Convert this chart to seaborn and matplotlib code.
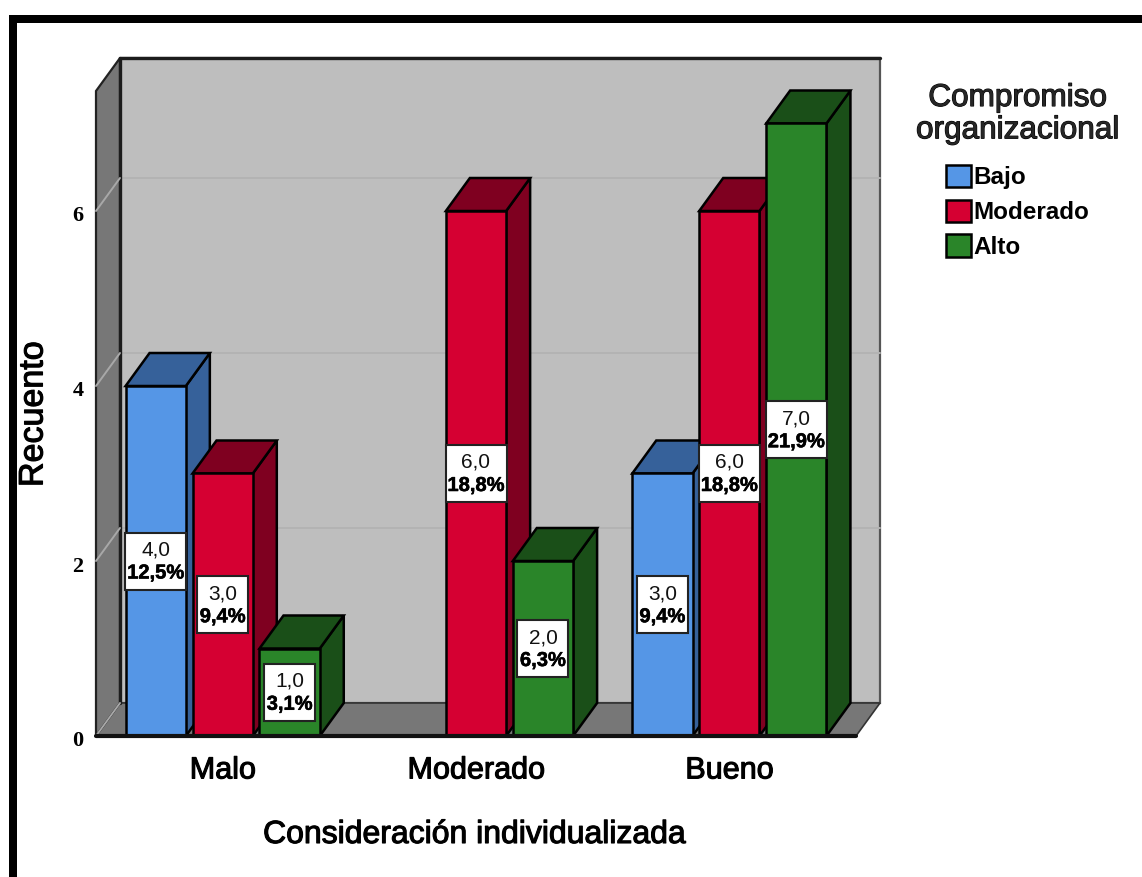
import numpy as np
import pandas as pd
import matplotlib
matplotlib.use("Agg")
import matplotlib.pyplot as plt
import matplotlib.patheffects as pe
from matplotlib.patches import Polygon, Rectangle
from matplotlib.transforms import ScaledTranslation
import seaborn as sns

# Survey counts by individual consideration and organisational commitment
categories = ["Malo", "Moderado", "Bueno"]
levels = ["Bajo", "Moderado", "Alto"]
bajo = [4, np.nan, 3]
moderado = [3, 6, 6]
alto = [1, 2, 7]
bajo_pct = [12.5, np.nan, 9.4]
moderado_pct = [9.4, 18.8, 18.8]
alto_pct = [3.1, 6.3, 21.9]
y_ticks = [0, 2, 4, 6]

front_colors = ["#5596E6", "#D50032", "#2A8529"]
shade_colors = ["#36619A", "#7F0020", "#1A4F18"]
WALL = "#BEBEBE"
SIDE = "#777777"
INK = "#000000"
SANS = "Liberation Sans"

W, H = 1142, 877
sns.set_theme(style="white", rc={"font.family": SANS})
fig = plt.figure(figsize=(W / 100, H / 100), dpi=100, facecolor="white")
ax = fig.add_axes([96 / W, (H - 736) / H, 760 / W, 645 / H])

df = pd.DataFrame({
    "categoria": np.repeat(categories, len(levels)),
    "nivel": levels * len(categories),
    "recuento": np.column_stack([bajo, moderado, alto]).ravel(),
})

sns.barplot(data=df, x="categoria", y="recuento", hue="nivel",
            order=categories, hue_order=levels, palette=front_colors,
            saturation=1, width=0.793, gap=0.1, edgecolor=INK, linewidth=1.8,
            ax=ax, zorder=5)

ax.set_xlim(-0.5, 2.5)
ax.set_ylim(0, 645 / 87.5)
for side in ax.spines.values():
    side.set_visible(False)

# Depth of the box, in data units
dx = 24 / (760 / 3)
dy = 33 / 87.5
x0, x1 = ax.get_xlim()
top = ax.get_ylim()[1]

# Back wall, floor and left wall of the box
ax.add_patch(Rectangle((x0 + dx, dy), x1 - x0, top, fc=WALL, ec="#555555", lw=1.6,
                       clip_on=False, zorder=0.5))
ax.add_patch(Polygon([(x0, 0), (x1, 0), (x1 + dx, dy), (x0 + dx, dy)], fc=SIDE,
                     ec="#333333", lw=1.2, clip_on=False, zorder=1))
ax.add_patch(Polygon([(x0, 0), (x0 + dx, dy), (x0 + dx, top + dy), (x0, top)], fc=SIDE,
                     ec="#222222", lw=1.6, clip_on=False, zorder=1))
ax.plot([x0 + dx, x0 + dx], [dy, top + dy], color="#1c1c1c", lw=2.4, clip_on=False, zorder=1.2)
ax.plot([x0 + dx, x1 + dx], [top + dy, top + dy], color="#1c1c1c", lw=2.4, clip_on=False, zorder=1.2)
ax.plot([x0, x1], [0, 0], color="#111111", lw=3, clip_on=False, zorder=30)

# Grid lines run along the back wall and fold down the left wall
for v in y_ticks:
    if v:
        ax.plot([x0 + dx, x1 + dx], [v + dy, v + dy], color="#B3B3B3", lw=1.4,
                clip_on=False, zorder=0.8)
    ax.plot([x0, x0 + dx], [v, v + dy], color="#A8A8A8", lw=1.4, clip_on=False, zorder=1.3)

# Extrude each bar: right side and top face, painted from left to right
bars = []
counts = [bajo, moderado, alto]
pcts = [bajo_pct, moderado_pct, alto_pct]
for h, container in enumerate(ax.containers):
    shown = [(c, p) for c, p in zip(counts[h], pcts[h]) if not np.isnan(c)]
    real = [b for b in container if b.get_height() > 0]
    for bar, (c, p) in zip(real, shown):
        bars.append((bar, shade_colors[h], c, p))
bars.sort(key=lambda item: item[0].get_x())

px_x = 760 / 3
px_y = 87.5
for i, (bar, shade, c, p) in enumerate(bars):
    z = 5 + i
    bx, bw, bh = bar.get_x(), bar.get_width(), bar.get_height()
    right = bx + bw
    bar.set_zorder(z + 0.2)
    bar.set_clip_on(False)
    ax.add_patch(Polygon([(right, 0), (right + dx, dy), (right + dx, bh + dy), (right, bh)],
                         fc=shade, ec=INK, lw=1.8, joinstyle="miter", clip_on=False, zorder=z))
    ax.add_patch(Polygon([(bx, bh), (right, bh), (right + dx, bh + dy), (bx + dx, bh + dy)],
                         fc=shade, ec=INK, lw=1.8, joinstyle="miter", clip_on=False, zorder=z))

# Count and percentage tags at mid height of each bar
for bar, shade, c, p in bars:
    cx = bar.get_x() + bar.get_width() / 2
    cy = bar.get_height() / 2
    pct_text = f"{p:.1f}%".replace(".", ",")
    box_w = (61 if p >= 10 else 51) / px_x
    box_h = 57 / px_y
    ax.add_patch(Rectangle((cx - box_w / 2, cy - box_h / 2), box_w, box_h, fc="white",
                           ec="#222222", lw=1.5, clip_on=False, zorder=40))
    ax.text(cx, cy + 11 / px_y, f"{c:.1f}".replace(".", ","), ha="center", va="center",
            fontsize=15, color="#111111", family=SANS, zorder=41)
    ax.text(cx, cy - 12 / px_y, pct_text, ha="center", va="center", fontsize=14.5,
            fontweight="bold", color=INK, family=SANS, zorder=41,
            path_effects=[pe.withStroke(linewidth=0.4, foreground=INK)])

# Axes text
thick = [pe.withStroke(linewidth=0.8, foreground=INK)]
ax.set_yticks(y_ticks)
ax.set_yticklabels([str(v) for v in y_ticks], fontsize=16, fontweight="bold",
                   family="Liberation Serif", color=INK)
ax.set_xticks(range(len(categories)))
ax.set_xticklabels(categories, fontsize=22, color=INK)
ax.tick_params(axis="y", length=0, pad=9)
ax.tick_params(axis="x", length=0, pad=14)
nudge = ScaledTranslation(0, -3 / 100, fig.dpi_scale_trans)
for t in ax.get_yticklabels():
    t.set_transform(t.get_transform() + nudge)
for t in ax.get_xticklabels():
    t.set_path_effects(thick)
ax.set_xlabel("")
ax.set_ylabel("")
fig.text(475 / W, 1 - 835 / H, "Consideración individualizada", ha="center", va="center",
         fontsize=23, color=INK, path_effects=thick)
fig.text(34 / W, 1 - 414 / H, "Recuento", ha="center", va="center", rotation=90,
         fontsize=24.5, color=INK, path_effects=thick)

# Legend, using the handles the bar plot created
handles, labels = ax.get_legend_handles_labels()
leg = ax.legend(handles, labels, title="Compromiso\norganizacional", loc="upper left",
                bbox_to_anchor=(916 / W, 1 - 83 / H), bbox_transform=fig.transFigure,
                frameon=False, fontsize=17.5, handlelength=1.0, handleheight=1.05,
                handletextpad=0.12, labelspacing=0.42, borderpad=0, borderaxespad=0,
                alignment="center")
title = leg.get_title()
title.set_fontsize(22.7)
title.set_path_effects(thick)
title.set_multialignment("center")
title.set_linespacing(1.1)
leg._legend_box.sep = 14
leg.set_zorder(50)
for t in leg.get_texts():
    t.set_fontweight("bold")
    t.set_color(INK)

# Heavy frame along the top and left of the figure
fig.add_artist(Rectangle((9 / W, 0), 8 / W, 1 - 15 / H, transform=fig.transFigure, fc=INK, ec="none"))
fig.add_artist(Rectangle((9 / W, 1 - 23 / H), 1 - 9 / W, 8 / H, transform=fig.transFigure, fc=INK, ec="none"))

fig.savefig("out.png", dpi=100, facecolor="white")
